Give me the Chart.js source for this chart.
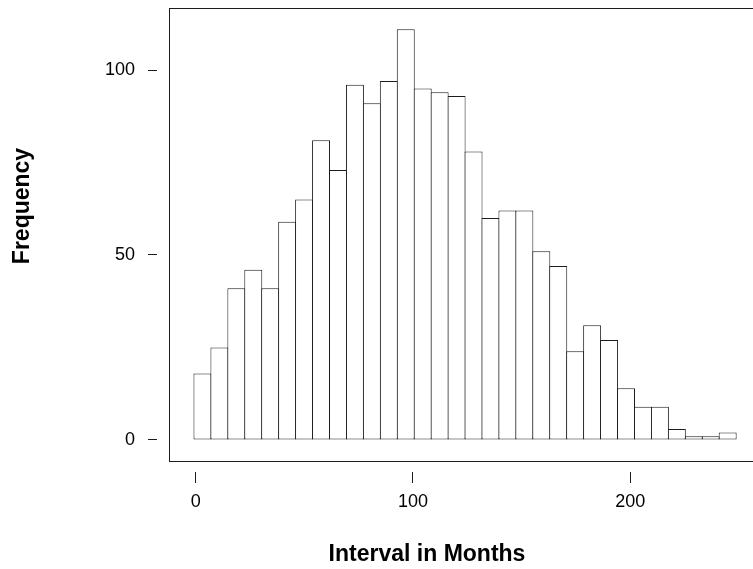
<!DOCTYPE html>
<html lang="en">
<head>
<meta charset="UTF-8" />
<title>Interval histogram</title>
<script src="https://cdn.jsdelivr.net/npm/chart.js"></script>
<style>
  html, body { margin: 0; padding: 0; background: #fff; overflow: hidden; }
  #wrap { width: 762px; height: 569px; }
</style>
</head>
<body>
<div id="wrap"><canvas id="histChart" width="762" height="569"></canvas></div>
<script>
  // histogram breaks (months) and bar counts
  const binStart = -0.8;
  const binWidth = 7.8;
  const counts = [18, 25, 41, 46, 41, 59, 65, 81, 73, 96, 91, 97, 111, 95, 94, 93,
                  78, 60, 62, 62, 51, 47, 24, 31, 27, 14, 9, 9, 3, 1, 1, 2];
  const xTicks = [0, 100, 200];
  const yTicks = [0, 50, 100];
  const xLabel = "Interval in Months";
  const yLabel = "Frequency";

  const ink = "#1c1c1c";
  const tickFont = { family: '"Liberation Sans", Arial, sans-serif', size: 18 };

  const points = counts.map((c, i) => ({ x: binStart + binWidth * (i + 0.5), y: c }));

  // no extra room for end labels, the box is placed by hand
  const noPad = s => { s.paddingTop = 0; s.paddingBottom = 0; s.paddingLeft = 0; s.paddingRight = 0; };

  // box round the plot region + the two axis titles
  const frameAndTitles = {
    id: 'frameAndTitles',
    afterDraw(chart) {
      const { ctx, chartArea: a } = chart;
      ctx.save();
      ctx.strokeStyle = ink;
      ctx.lineWidth = 1;
      ctx.strokeRect(a.left + 0.5, a.top + 0.5, a.right - a.left, a.bottom - a.top);
      ctx.fillStyle = "#000";
      ctx.font = 'bold 23px "Liberation Sans", Arial, sans-serif';
      ctx.textAlign = "center";
      ctx.textBaseline = "middle";
      ctx.fillText(xLabel, 427, 555);
      ctx.translate(23, 206);
      ctx.rotate(-Math.PI / 2);
      ctx.fillText(yLabel, 0, 0);
      ctx.restore();
    }
  };

  new Chart(document.getElementById("histChart"), {
    type: 'bar',
    data: {
      datasets: [{
        data: points,
        backgroundColor: "#fff",
        borderColor: ink,
        borderWidth: 1,
        borderSkipped: false,
        barPercentage: 1.06,
        categoryPercentage: 1
      }]
    },
    options: {
      responsive: false,
      animation: false,
      devicePixelRatio: 1,
      layout: { padding: { left: 0, top: 8, right: 0, bottom: 0 } },
      plugins: { legend: { display: false }, tooltip: { enabled: false } },
      scales: {
        x: {
          type: 'linear',
          offset: false,
          min: -12.3,
          max: 260.7,
          afterBuildTicks: s => { s.ticks = xTicks.map(v => ({ value: v })); },
          afterFit: s => { s.height = 108; noPad(s); },
          border: { display: false },
          grid: {
            offset: false,
            drawOnChartArea: false,
            tickLength: 22,
            tickBorderDash: [0, 11, 11, 100],
            tickColor: ink,
            tickWidth: 1
          },
          ticks: { color: "#000", font: tickFont, padding: 8, maxRotation: 0, autoSkip: false }
        },
        y: {
          min: -5.68,
          max: 116.76,
          afterBuildTicks: s => { s.ticks = yTicks.map(v => ({ value: v })); },
          afterFit: s => { s.width = 169; noPad(s); },
          border: { display: false },
          grid: {
            drawOnChartArea: false,
            tickLength: 21,
            tickBorderDash: [9, 100],
            tickColor: ink,
            tickWidth: 1
          },
          ticks: { color: "#000", font: tickFont, padding: 13, autoSkip: false }
        }
      }
    },
    plugins: [frameAndTitles]
  });
</script>
</body>
</html>
